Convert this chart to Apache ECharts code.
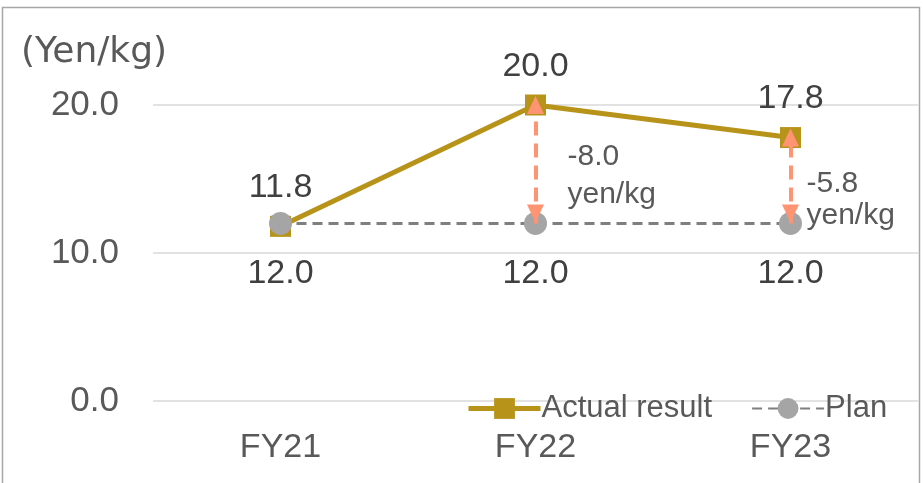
<!DOCTYPE html>
<html>
<head>
<meta charset="utf-8">
<script src="https://cdn.jsdelivr.net/npm/echarts@6/dist/echarts.min.js"></script>
<style>
html,body{margin:0;padding:0;background:#fff;}
#chart{width:923px;height:483px;}
</style>
</head>
<body>
<div id="chart"></div>
<script>
const categories = ['FY21', 'FY22', 'FY23'];
const actualValues = [11.8, 20.0, 17.8];
const planValues = [12.0, 12.0, 12.0];
const yTicks = [0, 10, 20];
const unitLabel = '(Yen/kg)';
const seriesNames = ['Actual result', 'Plan'];
const gapNotes = ['-8.0\nyen/kg', '-5.8\nyen/kg'];
const gapIndices = [1, 2];

const FONT = '"Liberation Sans", Arial, sans-serif';
const TITLE_FONT = '"DejaVu Sans", sans-serif';
const chart = echarts.init(document.getElementById('chart'), null, {renderer: 'canvas'});

const arrowLines = gapIndices.map(i => [
  {coord: [i, planValues[i]], symbol: 'triangle', symbolOffset: [0, 10]},
  {coord: [i, actualValues[i]], symbol: 'triangle', symbolOffset: [0, 0]}
]);

const noteStyles = [
  {offset: [2, 12], lineHeight: 38},
  {offset: [-14, 19], lineHeight: 32}
];
const noteLabels = gapIndices.map((i, k) => ({
  coord: [i, (planValues[i] + actualValues[i]) / 2],
  value: gapNotes[k],
  label: noteStyles[k]
}));

chart.setOption({
  animation: false,
  backgroundColor: '#fff',
  textStyle: {fontFamily: FONT},
  graphic: [
    {type: 'rect', shape: {x: 2.5, y: 7.5, width: 917, height: 490}, style: {fill: 'none', stroke: '#a6a6a6', lineWidth: 1.5}, z: 0},
    {type: 'text', left: 21, top: 35, style: {text: unitLabel, font: '36px ' + TITLE_FONT, fill: '#595959'}}
  ],
  grid: {left: 153, right: 5, top: 105, bottom: 82, containLabel: false},
  legend: {
    left: 461, top: 388,
    itemWidth: 72, itemHeight: 26, itemGap: 39,
    textStyle: {fontSize: 31, color: '#595959', fontFamily: FONT, padding: [0, 0, 0, -4]},
    data: [
      {name: seriesNames[0], lineStyle: {width: 5}},
      {name: seriesNames[1]}
    ]
  },
  xAxis: {
    type: 'category',
    data: categories,
    boundaryGap: true,
    axisLine: {show: false},
    axisTick: {show: false},
    axisLabel: {fontSize: 34, color: '#595959', margin: 30, fontFamily: FONT}
  },
  yAxis: {
    type: 'value',
    min: yTicks[0], max: yTicks[yTicks.length - 1], interval: 10,
    axisLine: {show: false},
    axisTick: {show: false},
    axisLabel: {fontSize: 35, color: '#595959', margin: 34, formatter: v => v.toFixed(1), fontFamily: FONT},
    splitLine: {lineStyle: {color: '#d9d9d9', width: 1.5}}
  },
  series: [
    {
      name: seriesNames[0],
      type: 'line',
      data: actualValues,
      clip: false,
      symbol: 'rect',
      symbolSize: 21,
      color: '#B8931A',
      lineStyle: {width: 5, color: '#B8931A'},
      itemStyle: {color: '#B8931A'},
      label: {show: true, position: 'top', distance: 11, fontSize: 34, color: '#404040', formatter: p => p.value.toFixed(1), fontFamily: FONT},
      z: 2,
      markLine: {
        silent: true,
        z: 6,
        symbolSize: [17, 18],
        lineStyle: {color: '#FF9473', width: 4, type: [14, 8]},
        itemStyle: {color: '#FF9473'},
        label: {show: false},
        data: arrowLines
      }
    },
    {
      name: seriesNames[1],
      type: 'line',
      data: planValues,
      clip: false,
      symbol: 'circle',
      symbolSize: 23,
      color: '#A5A5A5',
      lineStyle: {width: 3, color: '#7f7f7f', type: [10, 6]},
      itemStyle: {color: '#A5A5A5'},
      label: {show: true, position: 'bottom', distance: 22, fontSize: 34, color: '#404040', formatter: p => p.value.toFixed(1), fontFamily: FONT},
      z: 3,
      markPoint: {
        silent: true,
        symbol: 'circle',
        symbolSize: 0,
        data: noteLabels,
        label: {show: true, position: 'right', distance: 30, fontSize: 30, color: '#595959', formatter: p => p.value, fontFamily: FONT}
      }
    }
  ]
});
</script>
</body>
</html>
